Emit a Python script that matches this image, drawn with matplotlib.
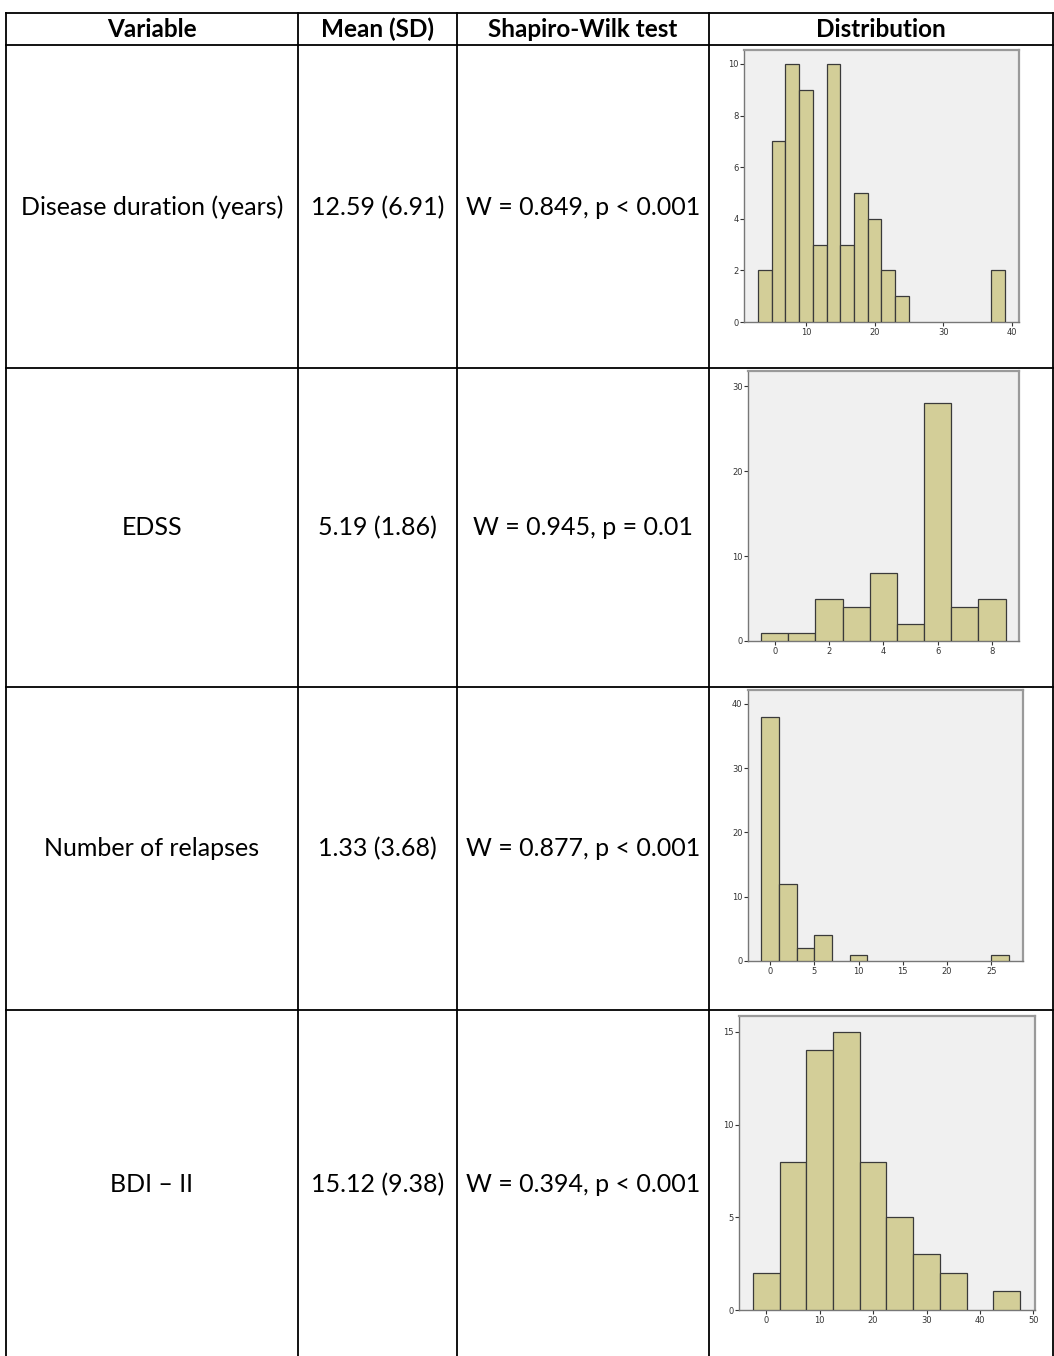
import matplotlib
matplotlib.use("Agg")
import matplotlib.pyplot as plt
from matplotlib.lines import Line2D
import numpy as np

W, H = 1054, 1356
DPI = 100

# ---------------- data ----------------
headers = ["Variable", "Mean (SD)", "Shapiro-Wilk test", "Distribution"]
variables = ["Disease duration (years)", "EDSS", "Number of relapses", "BDI \u2013 II"]
means = ["12.59 (6.91)", "5.19 (1.86)", "1.33 (3.68)", "15.12 (9.38)"]
sw_tests = ["W = 0.849, p < 0.001", "W = 0.945, p = 0.01",
            "W = 0.877, p < 0.001", "W = 0.394, p < 0.001"]

# histogram counts (bin start, bin width, counts)
dd_start, dd_width = 3, 2
dd_counts = [2, 7, 10, 9, 3, 10, 3, 5, 4, 2, 1, 0, 0, 0, 0, 0, 0, 2]
edss_start, edss_width = -0.5, 1
edss_counts = [1, 1, 5, 4, 8, 2, 28, 4, 5]
rel_start, rel_width = -1, 2
rel_counts = [38, 12, 2, 4, 0, 1, 0, 0, 0, 0, 0, 0, 0, 1]
bdi_start, bdi_width = -2.5, 5
bdi_counts = [2, 8, 14, 15, 8, 5, 3, 2, 0, 1]

hists = [
    dict(start=dd_start, width=dd_width, counts=dd_counts,
         xlim=(0.96, 41.06), ylim=(0, 10.54), xticks=[10, 20, 30, 40], yticks=[0, 2, 4, 6, 8, 10],
         box=(744, 50, 1019, 322)),
    dict(start=edss_start, width=edss_width, counts=edss_counts,
         xlim=(-0.98, 8.99), ylim=(0, 31.77), xticks=[0, 2, 4, 6, 8], yticks=[0, 10, 20, 30],
         box=(748, 371, 1019, 641)),
    dict(start=rel_start, width=rel_width, counts=rel_counts,
         xlim=(-2.48, 28.57), ylim=(0, 42.17), xticks=[0, 5, 10, 15, 20, 25], yticks=[0, 10, 20, 30, 40],
         box=(748, 690, 1023, 961)),
    dict(start=bdi_start, width=bdi_width, counts=bdi_counts,
         xlim=(-5.11, 50.3), ylim=(0, 15.85), xticks=[0, 10, 20, 30, 40, 50], yticks=[0, 5, 10, 15],
         box=(739, 1016, 1035, 1310)),
]

# ---------------- layout ----------------
col_x = [6, 297.5, 457, 709, 1053]
row_y = [12.5, 44.5, 367.5, 686.5, 1009.5, 1362]

fig = plt.figure(figsize=(W / DPI, H / DPI), dpi=DPI)
fig.patch.set_facecolor("white")


def fx(x):
    return x / W


def fy(y):
    return 1 - y / H


LW = 1.3
# horizontal lines
for y in row_y[:-1]:
    fig.add_artist(Line2D([fx(col_x[0]), fx(col_x[-1])], [fy(y), fy(y)], color="black",
                          lw=LW, transform=fig.transFigure, zorder=5))
# vertical lines
for x in col_x:
    fig.add_artist(Line2D([fx(x), fx(x)], [fy(row_y[0]), fy(H + 5)], color="black",
                          lw=LW, transform=fig.transFigure, zorder=5))

FONT = "Lato"
header_y = 29.5
for i, h in enumerate(headers):
    cx = (col_x[i] + col_x[i + 1]) / 2
    fig.text(fx(cx), fy(header_y), h, ha="center", va="center", fontsize=17.5,
             fontweight="bold", family=FONT)

row_centers = [207.5, 528, 849, 1185]
for r in range(4):
    cy = row_centers[r]
    for c, txt in enumerate([variables[r], means[r], sw_tests[r]]):
        cx = (col_x[c] + col_x[c + 1]) / 2
        fig.text(fx(cx), fy(cy), txt, ha="center", va="center", fontsize=18, family=FONT)

# ---------------- histograms ----------------
BAR = "#D3CE98"
EDGE = "#3a3a3a"
for h in hists:
    x0, y0, x1, y1 = h["box"]
    ax = fig.add_axes([fx(x0), fy(y1), (x1 - x0) / W, (y1 - y0) / H])
    ax.set_facecolor("#F0F0F0")
    counts = np.array(h["counts"])
    lefts = h["start"] + h["width"] * np.arange(len(counts))
    mask = counts > 0
    ax.bar(lefts[mask], counts[mask], width=h["width"], align="edge",
           color=BAR, edgecolor=EDGE, linewidth=0.9, zorder=3)
    ax.set_xlim(*h["xlim"])
    ax.set_ylim(*h["ylim"])
    ax.set_xticks(h["xticks"])
    ax.set_yticks(h["yticks"])
    ax.tick_params(axis="both", labelsize=6, colors="#333333", length=3, width=0.8, pad=1)
    for side in ["top", "right"]:
        ax.spines[side].set_color("#9a9a9a")
        ax.spines[side].set_linewidth(1.6)
    for side in ["left", "bottom"]:
        ax.spines[side].set_color("#777777")
        ax.spines[side].set_linewidth(1.0)

fig.savefig("out.png", dpi=DPI, facecolor="white")
